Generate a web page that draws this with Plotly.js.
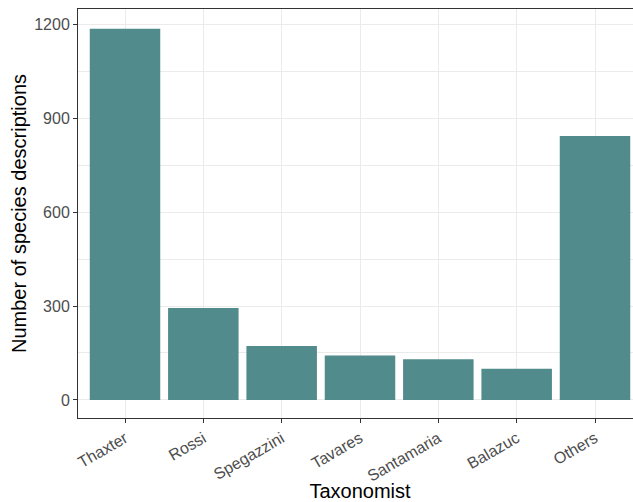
<!DOCTYPE html>
<html>
<head>
<meta charset="utf-8">
<script src="https://cdn.plot.ly/plotly-3.0.1.min.js"></script>
<style>
html, body { margin: 0; padding: 0; overflow: hidden; background: #fff; }
#chart { width: 645px; height: 502px; }
</style>
</head>
<body>
<div id="chart"></div>
<script>
const taxonomists = ["Thaxter", "Rossi", "Spegazzini", "Tavares", "Santamaria", "Balazuc", "Others"];
const descriptions = [1185, 294, 172, 142, 130, 100, 843];
const yTickVals = [0, 300, 600, 900, 1200];

const trace = {
  type: "bar",
  x: taxonomists,
  y: descriptions,
  marker: { color: "#528B8B", line: { width: 0 } },
  hoverinfo: "x+y"
};

const layout = {
  width: 645,
  height: 502,
  margin: { l: 78, r: 3, t: 9, b: 84 },
  paper_bgcolor: "#ffffff",
  plot_bgcolor: "#ffffff",
  bargap: 0.1,
  showlegend: false,
  font: { family: "Liberation Sans, Arial, sans-serif", color: "#4D4D4D", size: 16 },
  xaxis: {
    type: "category",
    range: [-0.6, 6.6],
    tickangle: -30,
    ticks: "outside",
    ticklen: 4,
    tickwidth: 1,
    tickcolor: "#333333",
    showline: true,
    mirror: true,
    linecolor: "#333333",
    linewidth: 1,
    showgrid: true,
    gridcolor: "#EBEBEB",
    gridwidth: 1,
    zeroline: false,
    tickfont: { size: 16, color: "#4D4D4D" },
    title: { text: "Taxonomist", font: { size: 20, color: "#000000" }, standoff: 8 }
  },
  yaxis: {
    range: [-57.5, 1248],
    tickvals: yTickVals,
    ticktext: yTickVals.map(String),
    ticks: "outside",
    ticklen: 4,
    tickwidth: 1,
    tickcolor: "#333333",
    showline: true,
    mirror: true,
    linecolor: "#333333",
    linewidth: 1,
    showgrid: true,
    gridcolor: "#EBEBEB",
    gridwidth: 1,
    minor: { tickvals: [150, 450, 750, 1050], showgrid: true, gridcolor: "#EBEBEB", gridwidth: 1, ticks: "" },
    zeroline: false,
    tickfont: { size: 16, color: "#4D4D4D" },
    title: { text: "Number of species descriptions", font: { size: 20, color: "#000000" }, standoff: 2 }
  }
};

Plotly.newPlot("chart", [trace], layout, { displayModeBar: false, staticPlot: true });
</script>
</body>
</html>
